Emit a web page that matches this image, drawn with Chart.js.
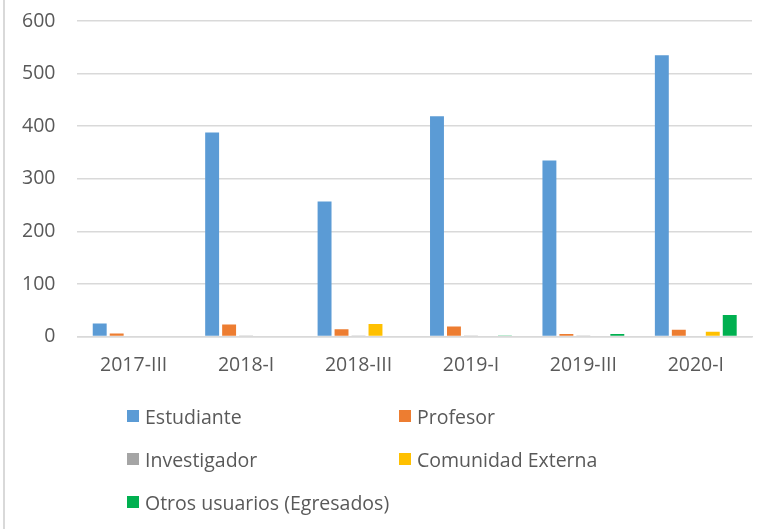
<!DOCTYPE html>
<html>
<head>
<meta charset="utf-8">
<script src="https://cdn.jsdelivr.net/npm/chart.js@4"></script>
<style>
  html, body { margin: 0; padding: 0; background: #fff; }
  #wrap { position: relative; width: 764px; height: 529px; overflow: hidden; }
  #edge { position: absolute; left: 3px; top: 0; width: 1.5px; height: 529px; background: #d9d9d9; }
  #legend { position: absolute; left: 0; top: 0; width: 764px; height: 529px; pointer-events: none;
            font-family: "Open Sans", sans-serif; font-size: 19.5px; color: #595959; }
  .item { position: absolute; display: flex; align-items: center; white-space: nowrap; }
  .box { width: 12px; height: 12px; margin-right: 6px; }
</style>
</head>
<body>
<div id="wrap">
  <canvas id="c" width="764" height="529"></canvas>
  <div id="edge"></div>
  <div id="legend"></div>
</div>
<script>
const categories = ["2017-III", "2018-I", "2018-III", "2019-I", "2019-III", "2020-I"];
const seriesNames = ["Estudiante", "Profesor", "Investigador", "Comunidad Externa", "Otros usuarios (Egresados)"];
const estudiante = [25, 388, 257, 419, 335, 535];
const profesor = [6, 23, 14, 19, 5, 13];
const investigador = [0, 1, 1, 1, 1, 0];
const comunidadExterna = [0, 0, 24, 0, 0, 9];
const otrosUsuarios = [0, 0, 0, 1, 5, 41];
const yTicks = [0, 100, 200, 300, 400, 500, 600];
const colors = ["#5B9BD5", "#ED7D31", "#A5A5A5", "#FFC000", "#00B050"];

const seriesValues = [estudiante, profesor, investigador, comunidadExterna, otrosUsuarios];
const textColor = "#595959";
const font = { family: "'Open Sans', sans-serif", size: 19.5 };

const chart = new Chart(document.getElementById("c"), {
  type: "bar",
  data: {
    labels: categories,
    datasets: seriesNames.map((n, i) => ({
      label: n,
      data: seriesValues[i],
      backgroundColor: colors[i],
      borderWidth: 0,
      categoryPercentage: 0.755,
      barPercentage: 0.82
    }))
  },
  options: {
    responsive: false,
    animation: false,
    layout: { padding: { left: 0, right: 12, top: 21, bottom: 135 } },
    plugins: { legend: { display: false }, tooltip: { enabled: false } },
    scales: {
      x: {
        grid: { display: false, drawTicks: false },
        border: { display: true, color: "#d9d9d9", width: 1.5 },
        ticks: { color: textColor, font: font, padding: 17, maxRotation: 0 }
      },
      y: {
        min: 0, max: 600,
        afterBuildTicks: (axis) => { axis.ticks = yTicks.map(v => ({ value: v })); },
        afterFit: (scale) => { scale.paddingTop = 0; },
        grid: { color: "#d9d9d9", lineWidth: 1.5, drawTicks: false },
        border: { display: false },
        ticks: { color: textColor, font: font, padding: 22 }
      }
    }
  }
});

// HTML legend built from datasets, two columns
const legend = document.getElementById("legend");
const colX = [127, 399];
const rowY = [404, 447, 490];
chart.data.datasets.forEach((ds, i) => {
  const el = document.createElement("div");
  el.className = "item";
  el.style.left = colX[i % 2] + "px";
  el.style.top = rowY[Math.floor(i / 2)] + "px";
  el.style.height = "24px";
  const b = document.createElement("div");
  b.className = "box";
  b.style.background = ds.backgroundColor;
  const t = document.createElement("span");
  t.textContent = ds.label;
  el.appendChild(b); el.appendChild(t);
  legend.appendChild(el);
});
</script>
</body>
</html>
